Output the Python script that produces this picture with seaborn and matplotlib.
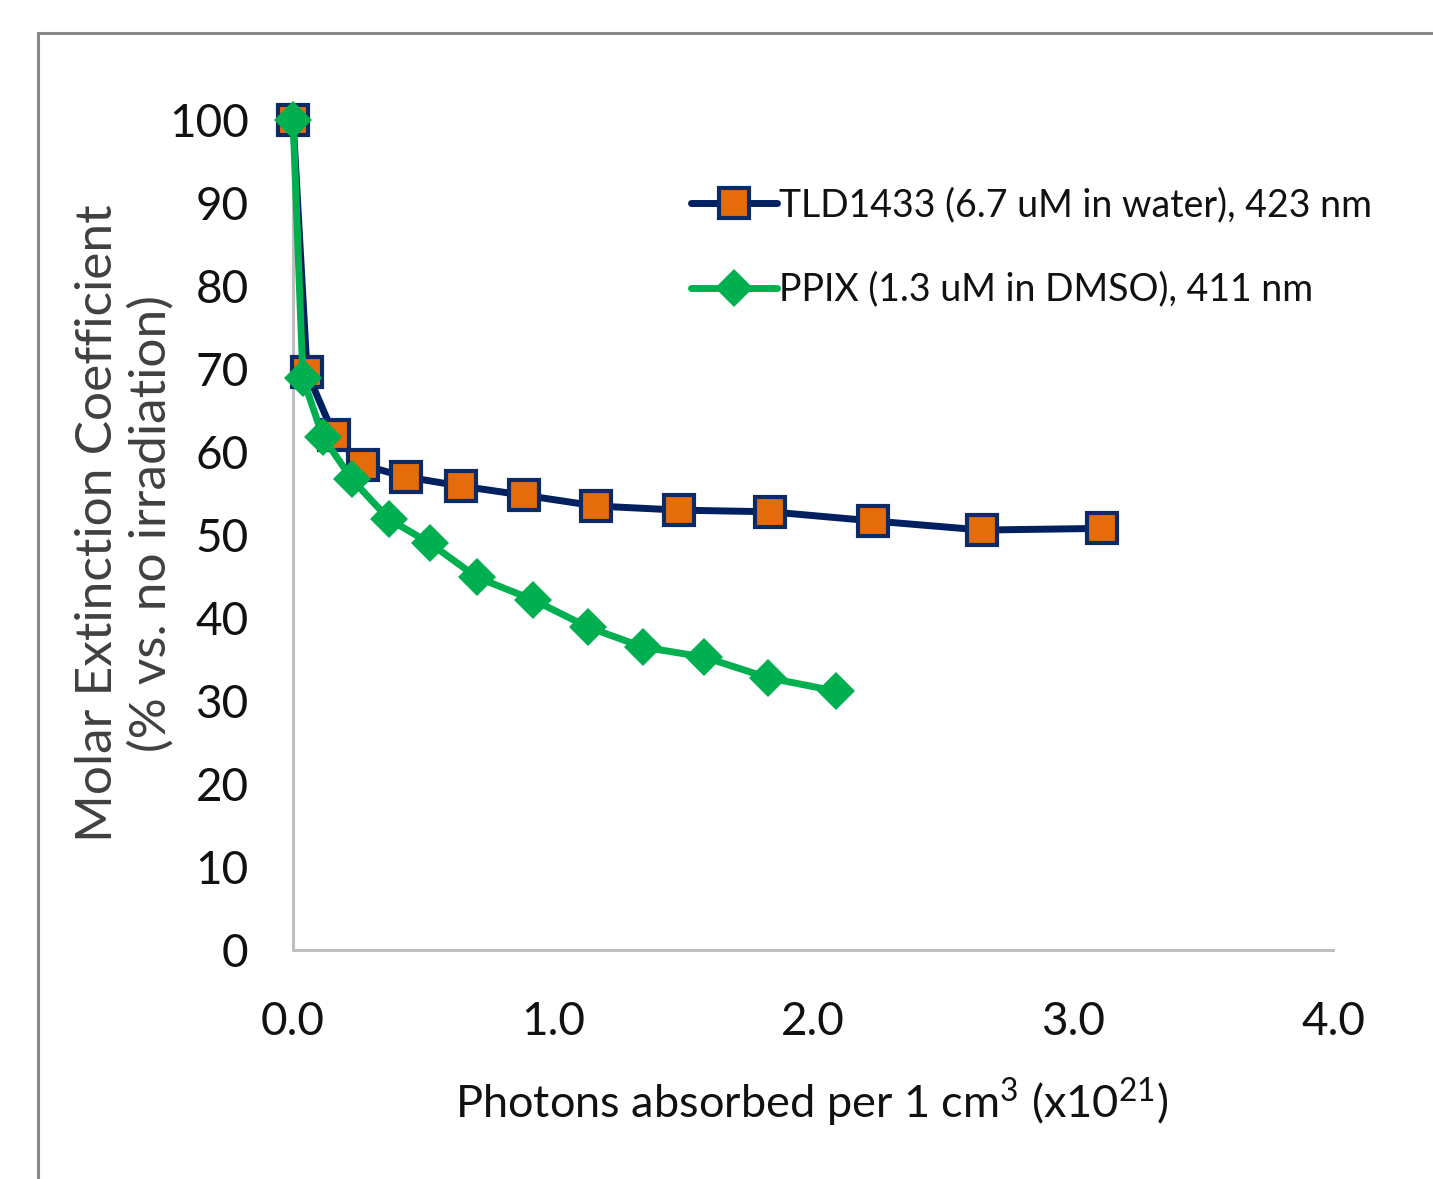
import numpy as np
import pandas as pd
import seaborn as sns
import matplotlib.pyplot as plt
from matplotlib.patches import Rectangle

# TLD1433 (squares) and PPIX (diamonds)
tld_x = [0.0, 0.054, 0.158, 0.27, 0.435, 0.646, 0.888, 1.165, 1.485, 1.835, 2.23, 2.65, 3.11]
tld_y = [100.0, 69.6, 62.0, 58.4, 57.0, 55.9, 54.8, 53.5, 53.0, 52.8, 51.7, 50.6, 50.8]
ppix_x = [0.0, 0.038, 0.115, 0.227, 0.369, 0.527, 0.708, 0.923, 1.135, 1.346, 1.581, 1.827, 2.088]
ppix_y = [100.0, 68.9, 61.8, 56.7, 51.9, 49.0, 44.9, 42.2, 38.9, 36.5, 35.3, 32.8, 31.2]
tld_label = "TLD1433 (6.7 uM in water), 423 nm"
ppix_label = "PPIX (1.3 uM in DMSO), 411 nm"
x_ticks = [0.0, 1.0, 2.0, 3.0, 4.0]
y_ticks = [0, 10, 20, 30, 40, 50, 60, 70, 80, 90, 100]

sns.set_style("white")
plt.rcParams['font.family'] = ['Lato', 'DejaVu Sans']
plt.rcParams['mathtext.fontset'] = 'custom'
plt.rcParams['mathtext.rm'] = 'Lato'

fig = plt.figure(figsize=(14.33, 11.79), dpi=100)
ax = fig.add_axes([0.2045, 0.1942, 0.7257, 0.704])

sns.lineplot(x=tld_x, y=tld_y, sort=False, ax=ax, color='#002060', lw=5,
             marker='s', markersize=21, markerfacecolor='#E46C0A',
             markeredgecolor='#0B2A66', markeredgewidth=3, label=tld_label,
             clip_on=False, zorder=3)
sns.lineplot(x=ppix_x, y=ppix_y, sort=False, ax=ax, color='#00B050', lw=5,
             marker='D', markersize=19, markerfacecolor='#00B050',
             markeredgecolor='#00B050', markeredgewidth=0, label=ppix_label,
             clip_on=False, zorder=4)

ax.set_xlim(0, 4)
ax.set_ylim(0, 100)
ax.set_xticks(x_ticks)
ax.set_xticklabels([f"{t:.1f}" for t in x_ticks])
ax.set_yticks(y_ticks)
ax.set_xlabel("")
ax.set_ylabel("")
for s in ['top', 'right']:
    ax.spines[s].set_visible(False)
for s in ['left', 'bottom']:
    ax.spines[s].set_color('#BFBFBF')
    ax.spines[s].set_linewidth(2.2)
ax.tick_params(axis='both', direction='out', length=12, width=2.2, color='#BFBFBF',
               labelsize=33, labelcolor='#111111')
ax.tick_params(axis='y', pad=20)
ax.tick_params(axis='x', pad=25)

fig.text(0.0872, 0.5564, "Molar Extinction Coefficient\n(% vs. no irradiation)",
         rotation=90, ha='center', va='center', multialignment='center',
         fontsize=37, color='#404040', linespacing=1.2)
fig.text(0.5667, 0.0645, "Photons absorbed per 1 cm$^3$ (x10$^{21}$)",
         ha='center', va='center', fontsize=32.5, color='#111111')

leg = ax.legend(loc='upper left', bbox_to_anchor=(0.35, 0.96), frameon=False,
                fontsize=27, handlelength=2.3, handletextpad=0.05, labelspacing=1.3)
for t in leg.get_texts():
    t.set_color('#111111')

# outer chart-area border, cut off at right and bottom
fig.patches.append(Rectangle((38 / 1433, -0.1), 1.2, 1.1 - 33 / 1179,
                             transform=fig.transFigure, fill=False,
                             edgecolor='#888888', linewidth=2.2))

fig.savefig('out.png', dpi=100)
